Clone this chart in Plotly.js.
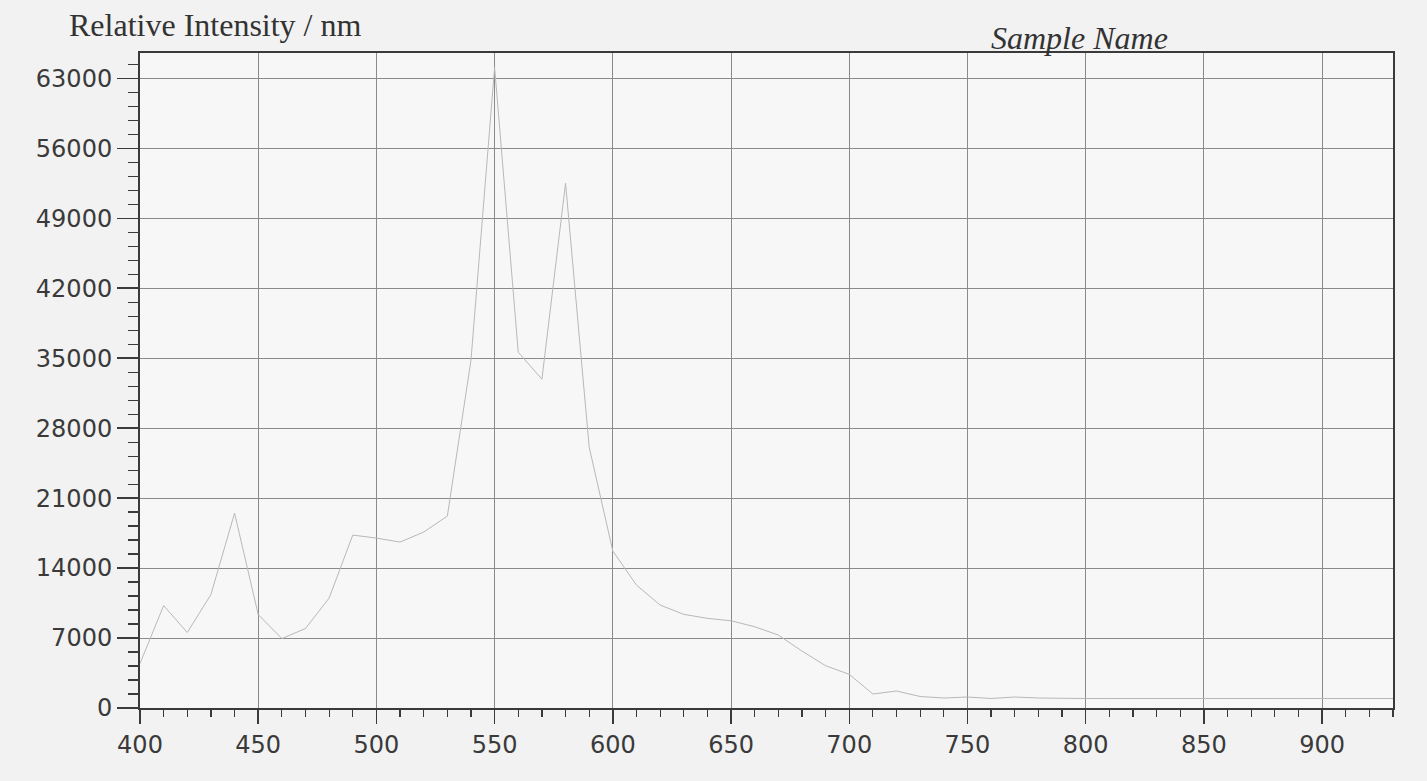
<!DOCTYPE html>
<html>
<head>
<meta charset="utf-8">
<script src="https://cdn.plot.ly/plotly-3.0.1.min.js"></script>
<style>
html,body{margin:0;padding:0;background:#f2f2f2;}
#chart{width:1427px;height:781px;}
</style>
</head>
<body>
<div id="chart"></div>
<script>
const wavelength = [400,410,420,430,440,450,460,470,480,490,500,510,520,530,540,550,560,570,580,590,600,610,620,630,640,650,660,670,680,690,700,710,720,730,740,750,760,770,780,790,800,810,820,830,840,850,860,870,880,890,900,910,920,930];
const intensity = [4450,10250,7550,11350,19500,9350,6950,7950,11000,17300,17000,16600,17600,19200,34800,64100,35600,32900,52500,26100,15700,12300,10300,9370,8970,8730,8130,7300,5700,4230,3370,1400,1700,1150,1000,1100,950,1100,1000,950,950,950,940,950,950,950,940,950,950,950,950,950,950,950];
const yTitle = "Relative Intensity / nm";
const sampleName = "Sample Name";

const trace = {
  x: wavelength, y: intensity, type: 'scatter', mode: 'lines',
  line: {color: '#b8b8b8', width: 1}, hoverinfo: 'x+y'
};

const tickFont = {family: 'DejaVu Sans, Verdana, sans-serif', size: 24, color: '#3a3a3a'};

const layout = {
  width: 1427, height: 781,
  margin: {l: 140, r: 34, t: 53, b: 73},
  paper_bgcolor: '#f2f2f2',
  plot_bgcolor: '#f7f7f7',
  showlegend: false,
  xaxis: {
    range: [400, 930], tick0: 400, dtick: 50, tickformat: 'd',
    showgrid: true, gridcolor: '#8a8a8a', gridwidth: 1,
    zeroline: false,
    showline: true, linecolor: '#3a3a3a', linewidth: 2, mirror: true,
    ticks: 'outside', ticklen: 14, tickwidth: 1.5, tickcolor: '#3a3a3a',
    minor: {dtick: 10, ticks: 'outside', ticklen: 7, tickwidth: 1.2, tickcolor: '#3a3a3a', showgrid: false},
    tickfont: tickFont
  },
  yaxis: {
    range: [0, 65535], tick0: 0, dtick: 7000, tickformat: 'd',
    showgrid: true, gridcolor: '#8a8a8a', gridwidth: 1,
    zeroline: false,
    showline: true, linecolor: '#3a3a3a', linewidth: 2, mirror: true,
    ticks: 'outside', ticklen: 21, tickwidth: 1.5, tickcolor: '#3a3a3a',
    minor: {dtick: 1400, ticks: 'outside', ticklen: 10, tickwidth: 1.2, tickcolor: '#3a3a3a', showgrid: false},
    tickfont: tickFont
  },
  annotations: [
    {text: yTitle, xref: 'paper', yref: 'paper', x: (67 - 140) / 1253, y: (708 - 25) / 655,
     xanchor: 'left', yanchor: 'middle', showarrow: false,
     font: {family: 'Liberation Serif, Times New Roman, serif', size: 32, color: '#333333'}},
    {text: '<i>' + sampleName + '</i>', xref: 'paper', yref: 'paper', x: (1079 - 140) / 1253, y: (708 - 38) / 655,
     xanchor: 'center', yanchor: 'middle', showarrow: false,
     font: {family: 'Liberation Serif, Times New Roman, serif', size: 32, color: '#333333'}}
  ]
};

Plotly.newPlot('chart', [trace], layout, {displayModeBar: false, staticPlot: true});
</script>
</body>
</html>
